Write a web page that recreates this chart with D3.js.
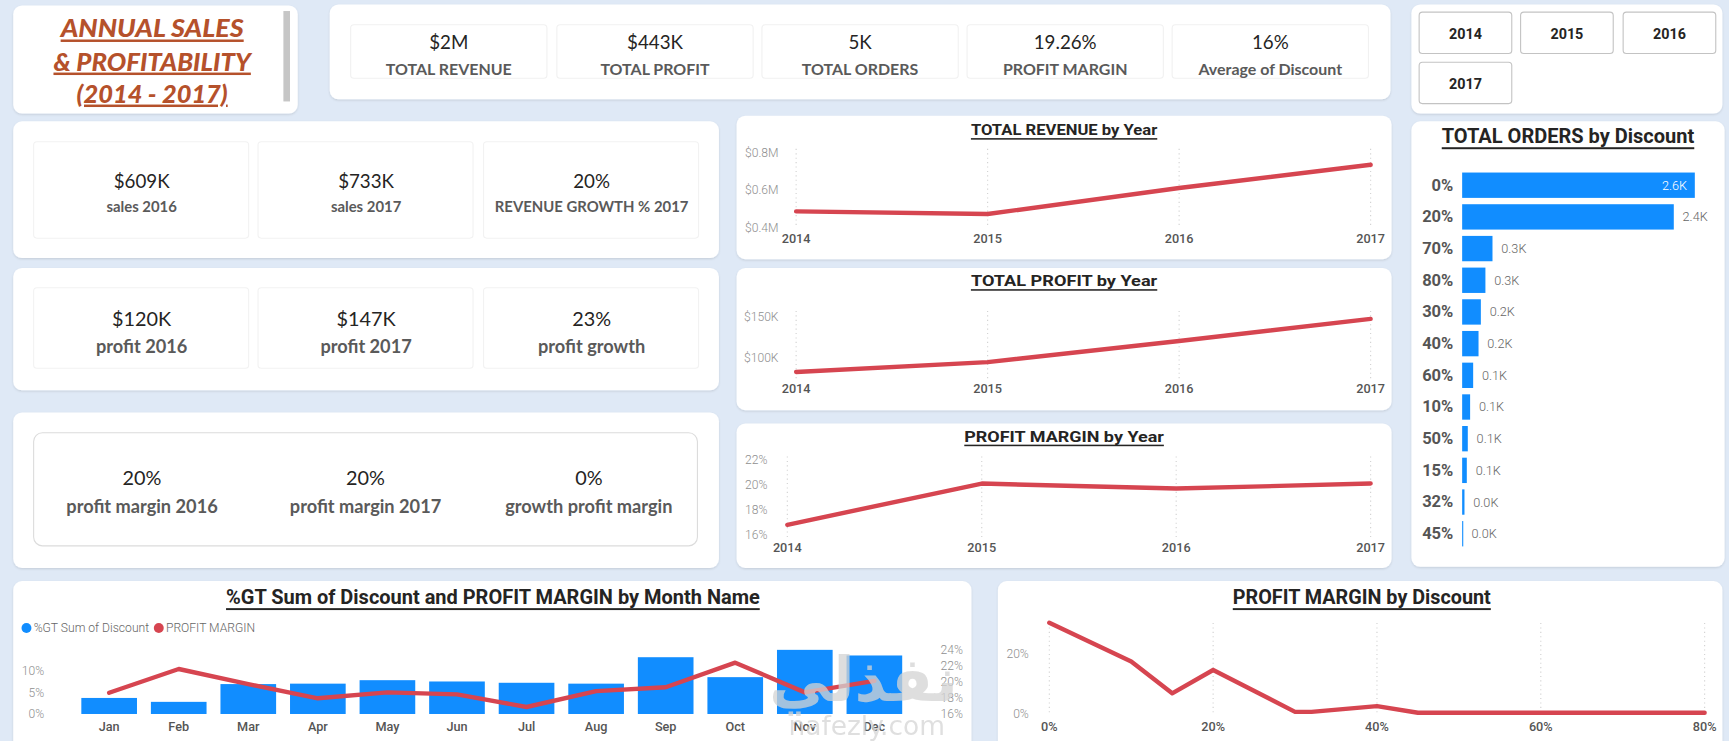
<!DOCTYPE html>
<html><head><meta charset="utf-8">
<script src="https://cdn.jsdelivr.net/npm/d3@7"></script>
<style>
html,body{margin:0;padding:0;background:#dfe9f6;overflow:hidden}
svg{display:block}
</style></head><body>
<svg id="c" width="1729" height="741" viewBox="0 0 1568 672"></svg>
<script>
// ---------- DATA ----------
const titleLines = ["ANNUAL SALES ", "& PROFITABILITY", "(2014 - 2017)"];
const kpiValues = ["$2M", "$443K", "5K", "19.26%", "16%"];
const kpiLabels = ["TOTAL REVENUE", "TOTAL PROFIT", "TOTAL ORDERS", "PROFIT MARGIN", "Average of Discount"];
const slicerYears = ["2014", "2015", "2016", "2017"];
const salesValues = ["$609K", "$733K", "20%"];
const salesLabels = ["sales 2016", "sales 2017", "REVENUE GROWTH % 2017"];
const profitValues = ["$120K", "$147K", "23%"];
const profitLabels = ["profit 2016", "profit 2017", "profit growth"];
const marginValues = ["20%", "20%", "0%"];
const marginLabels = ["profit margin 2016", "profit margin 2017", "growth profit margin"];

const years = [2014, 2015, 2016, 2017];
const revenueByYear = [484, 470, 609, 733];      // $K
const revenueTicks = [400, 600, 800];
const profitByYear = [82, 94, 120, 147];         // $K
const profitTicks = [100, 150];
const marginByYear = [16.8, 20.1, 19.7, 20.1];   // %
const marginTicks = [16, 18, 20, 22];

const discountCats = ["0%", "20%", "70%", "80%", "30%", "40%", "60%", "10%", "50%", "15%", "32%", "45%"];
const ordersByDiscount = [2600, 2365, 339, 260, 209, 183, 123, 89, 63, 52, 26, 7];

const months = ["Jan", "Feb", "Mar", "Apr", "May", "Jun", "Jul", "Aug", "Sep", "Oct", "Nov", "Dec"];
const discountShare = [3.7, 2.8, 6.9, 7.0, 7.8, 7.5, 7.2, 7.0, 13.1, 8.5, 14.8, 13.5]; // %GT
const monthMargin = [18.6, 21.6, 19.7, 17.9, 18.65, 18.4, 16.8, 18.8, 19.3, 22.4, 18.65, 20.1];
const shareTicks = [0, 5, 10];
const monthMarginTicks = [16, 18, 20, 22, 24];

const discountLevels = [0, 10, 15, 20, 30, 32, 40, 45, 50, 60, 70, 80];
const marginByDiscount = [30.1, 17.3, 6.8, 14.5, 0.7, 0.7, 2.6, 0.4, 0.4, 0.4, 0.4, 0.4];
const discountXTicks = [0, 20, 40, 60, 80];
const discountYTicks = [0, 20];

// ---------- STYLE ----------
const SEG = "Lato, 'Open Sans', sans-serif";
const DIN = "Roboto, 'DejaVu Sans', sans-serif";
const RED = "#d64550", BLUE = "#118DFF";

const svg = d3.select("#c");
const defs = svg.append("defs");
const f = defs.append("filter").attr("id", "sh").attr("x", "-5%").attr("y", "-5%").attr("width", "110%").attr("height", "115%");
f.append("feDropShadow").attr("dx", 0).attr("dy", 1).attr("stdDeviation", 1.2).attr("flood-color", "#000").attr("flood-opacity", 0.12);

svg.append("rect").attr("width", 1568).attr("height", 672).attr("fill", "#dfe9f6");

function card(x, y, w, h, r = 8) {
  return svg.append("rect").attr("x", x).attr("y", y).attr("width", w).attr("height", h)
    .attr("rx", r).attr("fill", "#fff").attr("filter", "url(#sh)");
}
function txt(g, x, y, s, size, opts = {}) {
  return g.append("text").attr("x", x).attr("y", y).text(s)
    .attr("font-family", opts.family || SEG).attr("font-size", size)
    .attr("font-weight", opts.weight || 400).attr("fill", opts.fill || "#252423")
    .attr("text-anchor", opts.anchor || "middle")
    .attr("dominant-baseline", opts.baseline || "auto")
    .attr("font-style", opts.style || "normal");
}

// ---------- CARDS ----------
card(12, 5, 258, 98);
card(299, 4, 962, 86);
card(1280, 4, 282, 99);
card(12, 110, 640, 124);
card(12, 243, 640, 111);
card(12, 374, 640, 141);
card(668, 105, 594, 130);
card(668, 243, 594, 129);
card(668, 384, 594, 131);
card(1280, 110, 284, 404);
card(12, 527, 869, 170);
card(905, 527, 657, 170);

// Title card
const titleLen = [166, 179, 137];
titleLines.forEach((t, i) => {
  txt(svg, 138, [34, 64, 93][i], t, 22.5, { weight: 900, style: "italic", fill: "#b5512b" })
    .attr("textLength", titleLen[i]).attr("lengthAdjust", "spacingAndGlyphs")
    .style("text-decoration", "underline");
});
svg.append("rect").attr("x", 257).attr("y", 10).attr("width", 6).attr("height", 82).attr("fill", "#c6c6c6");

// KPI card
const kpiX = [318, 505, 691, 877, 1063];
kpiValues.forEach((v, i) => {
  svg.append("rect").attr("x", kpiX[i]).attr("y", 22.5).attr("width", 178).attr("height", 48.5)
    .attr("rx", 3).attr("fill", "#fff").attr("stroke", "#f1f1f1");
  txt(svg, kpiX[i] + 89, 38.5, v, 17, { baseline: "central" });
  txt(svg, kpiX[i] + 89, 62, kpiLabels[i], 14.5, { weight: 700, fill: "#5a5a5a", baseline: "central" });
});

// Slicer
const btn = [[1287, 11], [1379, 11], [1472, 11], [1287, 56.5]];
slicerYears.forEach((yv, i) => {
  svg.append("rect").attr("x", btn[i][0]).attr("y", btn[i][1]).attr("width", 84).attr("height", 37.5)
    .attr("rx", 3).attr("fill", "#fff").attr("stroke", "#c3c3c3");
  txt(svg, btn[i][0] + 42, btn[i][1] + 19.5, yv, 13, { weight: 700, family: DIN, baseline: "central" });
});

// Row cards
const subX = [30.5, 234, 438.5];
function subRow(vals, labs, yTop, h, vy, ly, vSize, lSize, boxes) {
  vals.forEach((v, i) => {
    if (boxes) svg.append("rect").attr("x", subX[i]).attr("y", yTop).attr("width", 195).attr("height", h)
      .attr("rx", 3).attr("fill", "#fff").attr("stroke", "#f2f2f2");
    txt(svg, subX[i] + 98, vy, v, vSize, { baseline: "central" });
    txt(svg, subX[i] + 98, ly, labs[i], lSize, { weight: 700, fill: "#5a5a5a", baseline: "central" });
  });
}
subRow(salesValues, salesLabels, 128.5, 87.5, 164, 186.5, 17, 13.5, true);
subRow(profitValues, profitLabels, 261, 73, 288.5, 313.5, 18, 16.5, true);
svg.append("rect").attr("x", 30.5).attr("y", 392.5).attr("width", 602).attr("height", 102.5)
  .attr("rx", 8).attr("fill", "#fff").attr("stroke", "#dcdcdc");
const cX = [128.8, 331.5, 534];
marginValues.forEach((v, i) => {
  txt(svg, cX[i], 433, v, 18, { baseline: "central" });
  txt(svg, cX[i], 459, marginLabels[i], 16.5, { weight: 700, fill: "#5a5a5a", baseline: "central" });
});

// ---------- YEAR LINE CHARTS ----------
function chartTitle(x, y, s, size, len) {
  const t = txt(svg, x, y, s, size, { weight: 700, family: DIN, fill: "#252423", baseline: "central" })
    .style("text-decoration", "underline");
  if (len) t.attr("textLength", len).attr("lengthAdjust", "spacingAndGlyphs");
  return t;
}
function yearChart(o) {
  const g = svg.append("g");
  chartTitle(965, o.titleY, o.title, 14, o.tlen);
  const x = d3.scalePoint().domain(years).range([o.x0, 1243]);
  const y = d3.scaleLinear().domain(o.domain).range(o.range);
  g.selectAll(".gl").data(years).join("line")
    .attr("x1", d => x(d)).attr("x2", d => x(d)).attr("y1", o.gTop).attr("y2", o.gBot)
    .attr("stroke", "#d0d0d0").attr("stroke-dasharray", "1,3");
  const ax = g.append("g").attr("transform", `translate(${o.axX},0)`)
    .call(d3.axisLeft(y).tickValues(o.ticks).tickSize(0).tickPadding(0).tickFormat(o.fmt));
  ax.select(".domain").remove();
  ax.selectAll("text").attr("font-family", DIN).attr("font-size", 11).attr("fill", "#8f8f8f").attr("font-weight", 300);
  g.selectAll(".xl").data(years).join("text")
    .attr("x", d => x(d)).attr("y", o.labY).text(d => d)
    .attr("text-anchor", "middle").attr("font-family", DIN).attr("font-size", 11.5)
    .attr("font-weight", 500).attr("fill", "#555");
  g.append("path").datum(o.vals.map((v, i) => [years[i], v]))
    .attr("d", d3.line().x(d => x(d[0])).y(d => y(d[1])))
    .attr("fill", "none").attr("stroke", RED).attr("stroke-width", 4).attr("stroke-linecap", "round").attr("stroke-linejoin", "round");
}
yearChart({ title: "TOTAL REVENUE by Year", tlen: 169, titleY: 118, x0: 722, domain: [400, 800], range: [206, 138],
  ticks: revenueTicks, fmt: d => "$" + (d / 1000).toFixed(1) + "M", axX: 706, gTop: 135, gBot: 206, labY: 220, vals: revenueByYear });
yearChart({ title: "TOTAL PROFIT by Year", tlen: 169, titleY: 255, x0: 722, domain: [100, 150], range: [324, 287],
  ticks: profitTicks, fmt: d => "$" + d + "K", axX: 706, gTop: 282, gBot: 346, labY: 356, vals: profitByYear });
yearChart({ title: "PROFIT MARGIN by Year", tlen: 181, titleY: 396, x0: 714, domain: [16, 22], range: [485, 417],
  ticks: marginTicks, fmt: d => d + "%", axX: 696, gTop: 414, gBot: 487, labY: 501, vals: marginByYear });

// ---------- ORDERS BY DISCOUNT ----------
{
  const g = svg.append("g");
  chartTitle(1422, 124, "TOTAL ORDERS by Discount", 18, 229);
  const y = d3.scaleBand().domain(discountCats).range([153.6, 498.4]).paddingInner(0.2).paddingOuter(0.1);
  const x = d3.scaleLinear().domain([0, 2600]).range([1326, 1537]);
  g.selectAll("rect.b").data(discountCats).join("rect")
    .attr("x", x(0)).attr("y", d => y(d)).attr("height", y.bandwidth())
    .attr("width", (d, i) => Math.max(1, x(ordersByDiscount[i]) - x(0))).attr("fill", BLUE);
  const ax = g.append("g").attr("transform", `translate(1318,0)`)
    .call(d3.axisLeft(y).tickSize(0).tickPadding(0));
  ax.select(".domain").remove();
  ax.selectAll("text").attr("font-family", DIN).attr("font-size", 15).attr("font-weight", 700).attr("fill", "#555");
  const fmt = v => (v / 1000).toFixed(1) + "K";
  g.selectAll("text.v").data(discountCats).join("text")
    .attr("y", d => y(d) + y.bandwidth() / 2).attr("dominant-baseline", "central")
    .attr("x", (d, i) => i === 0 ? x(ordersByDiscount[i]) - 7 : x(ordersByDiscount[i]) + 8)
    .attr("text-anchor", (d, i) => i === 0 ? "end" : "start")
    .attr("fill", (d, i) => i === 0 ? "#fff" : "#666")
    .attr("font-family", DIN).attr("font-size", 11.5).attr("font-weight", 300)
    .text((d, i) => fmt(ordersByDiscount[i]));
}

// ---------- MONTH COMBO CHART ----------
{
  const g = svg.append("g");
  chartTitle(447, 542, "%GT Sum of Discount and PROFIT MARGIN by Month Name", 17.5, 484);
  g.append("circle").attr("cx", 24).attr("cy", 569.5).attr("r", 4.5).attr("fill", BLUE);
  txt(g, 30.5, 569.5, "%GT Sum of Discount", 11, { anchor: "start", family: DIN, fill: "#666", weight: 300, baseline: "central" });
  g.append("circle").attr("cx", 144).attr("cy", 569.5).attr("r", 4.5).attr("fill", RED);
  txt(g, 150.5, 569.5, "PROFIT MARGIN", 11, { anchor: "start", family: DIN, fill: "#666", weight: 300, baseline: "central" });

  const x = d3.scaleBand().domain(months).range([67.45, 824.5]).paddingInner(0.2).paddingOuter(0.1);
  const yL = d3.scaleLinear().domain([0, 10]).range([647.5, 608.2]);
  const yR = d3.scaleLinear().domain([16, 24]).range([646.9, 589.5]);
  g.selectAll("rect.m").data(months).join("rect")
    .attr("x", d => x(d)).attr("width", x.bandwidth())
    .attr("y", (d, i) => yL(discountShare[i])).attr("height", (d, i) => yL(0) - yL(discountShare[i]))
    .attr("fill", BLUE);
  const axl = g.append("g").attr("transform", "translate(40,0)")
    .call(d3.axisLeft(yL).tickValues(shareTicks).tickSize(0).tickPadding(0).tickFormat(d => d + "%"));
  axl.select(".domain").remove();
  axl.selectAll("text").attr("font-family", DIN).attr("font-size", 11).attr("fill", "#8f8f8f").attr("font-weight", 300);
  const axr = g.append("g").attr("transform", "translate(853,0)")
    .call(d3.axisRight(yR).tickValues(monthMarginTicks).tickSize(0).tickPadding(0).tickFormat(d => d + "%"));
  axr.select(".domain").remove();
  axr.selectAll("text").attr("font-family", DIN).attr("font-size", 11).attr("fill", "#8f8f8f").attr("font-weight", 300);
  g.selectAll("text.ml").data(months).join("text")
    .attr("x", d => x(d) + x.bandwidth() / 2).attr("y", 663).text(d => d)
    .attr("text-anchor", "middle").attr("font-family", DIN).attr("font-size", 11.5)
    .attr("font-weight", 500).attr("fill", "#555");
  g.append("path").datum(months.map((m, i) => [m, monthMargin[i]]))
    .attr("d", d3.line().x(d => x(d[0]) + x.bandwidth() / 2).y(d => yR(d[1])))
    .attr("fill", "none").attr("stroke", RED).attr("stroke-width", 4).attr("stroke-linecap", "round").attr("stroke-linejoin", "round");
  // watermark (faint, as in the reference)
  txt(g, 783, 636, "نفذلي", 56, { weight: 700, fill: "#d4d4d4", family: "'DejaVu Sans', sans-serif" }).attr("opacity", 0.75);
  txt(g, 786, 667, "nafezly.com", 24, { weight: 400, fill: "#d8d8d8", family: "'DejaVu Sans', sans-serif" }).attr("opacity", 0.8);
}

// ---------- PROFIT MARGIN BY DISCOUNT ----------
{
  const g = svg.append("g");
  chartTitle(1235, 542, "PROFIT MARGIN by Discount", 17.5, 234);
  const x = d3.scaleLinear().domain([0, 80]).range([951.6, 1545.9]);
  const y = d3.scaleLinear().domain([0, 20]).range([647.5, 592.5]);
  g.selectAll(".gl").data(discountXTicks).join("line")
    .attr("x1", d => x(d)).attr("x2", d => x(d)).attr("y1", 565).attr("y2", 648)
    .attr("stroke", "#d0d0d0").attr("stroke-dasharray", "1,3");
  const ay = g.append("g").attr("transform", "translate(933,0)")
    .call(d3.axisLeft(y).tickValues(discountYTicks).tickSize(0).tickPadding(0).tickFormat(d => d + "%"));
  ay.select(".domain").remove();
  ay.selectAll("text").attr("font-family", DIN).attr("font-size", 11).attr("fill", "#8f8f8f").attr("font-weight", 300);
  g.selectAll("text.xl").data(discountXTicks).join("text")
    .attr("x", d => x(d)).attr("y", 663).text(d => d + "%")
    .attr("text-anchor", "middle").attr("font-family", DIN).attr("font-size", 11.5)
    .attr("font-weight", 500).attr("fill", "#555");
  g.append("path").datum(discountLevels.map((d, i) => [d, marginByDiscount[i]]))
    .attr("d", d3.line().x(d => x(d[0])).y(d => y(d[1])))
    .attr("fill", "none").attr("stroke", RED).attr("stroke-width", 4).attr("stroke-linecap", "round").attr("stroke-linejoin", "round");
}
</script></body></html>
